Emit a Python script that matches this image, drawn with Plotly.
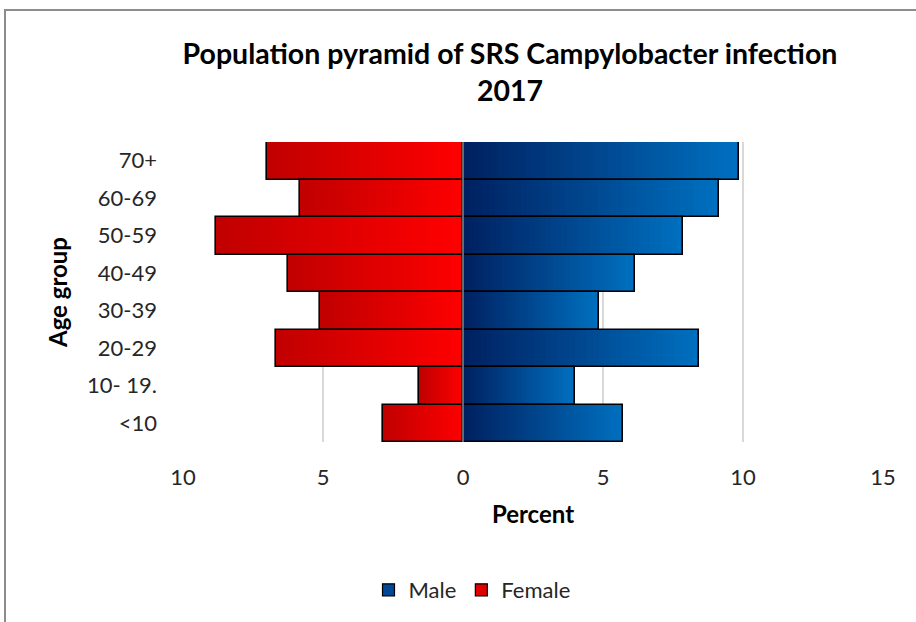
"""Population pyramid of SRS Campylobacter infection, 2017."""

import plotly.graph_objects as go

# bottom to top
age_groups = ["<10", "10- 19.", "20-29", "30-39", "40-49", "50-59", "60-69", "70+"]
male_pct = [5.71, 4.0, 8.42, 4.85, 6.14, 7.85, 9.13, 9.85]
female_pct = [2.85, 1.56, 6.69, 5.1, 6.26, 8.82, 5.82, 7.0]
x_tick_vals = [-10, -5, 0, 5, 10, 15]
x_tick_text = ["10", "5", "0", "5", "10", "15"]

FONT = "Lato, 'Open Sans', sans-serif"
COLOR_TEXT = "#000000"
COLOR_TICK = "#262626"
COLOR_GRID = "#D9D9D9"
COLOR_AXIS = "#868686"
STEPS = 40

# gradient ends: (near zero, far end)
MALE_NEAR, MALE_FAR = (0, 32, 96), (0, 112, 192)
FEMALE_NEAR, FEMALE_FAR = (255, 0, 0), (192, 0, 0)


def _mix(a, b, t):
    return "rgb({},{},{})".format(*[round(a[i] + (b[i] - a[i]) * t) for i in range(3)])


def _gradient_bars(fig, values, sign, near, far, name):
    # longest bar first (far colour), shorter ones painted on top -> gradient
    for k in range(STEPS, 0, -1):
        frac = k / STEPS
        fig.add_trace(
            go.Bar(
                y=age_groups,
                x=[sign * v * frac for v in values],
                orientation="h",
                name=name,
                showlegend=False,
                marker=dict(color=_mix(near, far, frac - 0.5 / STEPS), line=dict(width=0)),
                hoverinfo="skip",
            )
        )
    # outline
    fig.add_trace(
        go.Bar(
            y=age_groups,
            x=[sign * v for v in values],
            orientation="h",
            name=name,
            showlegend=False,
            marker=dict(color="rgba(0,0,0,0)", line=dict(width=1.6, color="black")),
            customdata=values,
            hovertemplate="%{y}: " + name + " %{customdata}%<extra></extra>",
        )
    )


fig = go.Figure()
_gradient_bars(fig, male_pct, 1, MALE_NEAR, MALE_FAR, "Male")
_gradient_bars(fig, female_pct, -1, FEMALE_NEAR, FEMALE_FAR, "Female")

# legend entries
for name, color in [("Male", "rgb(0,72,150)"), ("Female", "rgb(225,0,0)")]:
    fig.add_trace(
        go.Bar(
            y=[None],
            x=[None],
            orientation="h",
            name=name,
            marker=dict(color=color, line=dict(width=1.2, color="black")),
        )
    )

fig.add_shape(
    type="line", xref="x", yref="paper", x0=0, x1=0, y0=0, y1=1,
    line=dict(color=COLOR_AXIS, width=1.5), layer="above",
)
# outer chart border (partly clipped, as in the source image)
fig.add_shape(
    type="rect", xref="paper", yref="paper",
    x0=-0.2543, x1=1.08, y0=-0.7, y1=1.44,
    line=dict(color="#8C8C8C", width=2), fillcolor="rgba(0,0,0,0)", layer="below",
)

fig.update_layout(
    width=916,
    height=622,
    paper_bgcolor="white",
    plot_bgcolor="white",
    font=dict(family=FONT, color=COLOR_TEXT, size=22),
    barmode="overlay",
    bargap=0,
    margin=dict(l=183, r=33, t=142, b=180),
    title=dict(
        text="<b>Population pyramid of SRS Campylobacter infection<br>2017</b>",
        x=510 / 916,
        xanchor="center",
        y=1 - 64 / 622,
        yanchor="top",
        font=dict(size=28.5, color="black", family=FONT),
    ),
    showlegend=True,
    legend=dict(
        orientation="h",
        x=472 / 916,
        xanchor="center",
        xref="container",
        y=1 - 590 / 622,
        yanchor="middle",
        yref="container",
        font=dict(size=22, color=COLOR_TICK),
        traceorder="normal",
        itemwidth=30,
    ),
)
fig.update_xaxes(
    range=[-10, 15],
    tickvals=x_tick_vals,
    ticktext=x_tick_text,
    showgrid=True,
    gridcolor=COLOR_GRID,
    gridwidth=1.5,
    zeroline=False,
    showline=False,
    ticks="",
    ticklabelstandoff=20,
    tickfont=dict(size=22, color=COLOR_TICK),
    title=dict(text="<b>Percent</b>", font=dict(size=24, color="black"), standoff=17),
)
fig.update_yaxes(
    categoryorder="array",
    categoryarray=age_groups,
    showgrid=False,
    zeroline=False,
    showline=False,
    ticks="",
    ticklabelstandoff=25,
    tickfont=dict(size=22, color=COLOR_TICK),
    title=dict(text="<b>Age group</b>", font=dict(size=24, color="black"), standoff=12),
)

# page has a default body margin; drop it so the figure sits at the window origin
fig.write_html(
    "out.html",
    config={"displayModeBar": False},
    post_script="document.body.style.margin = '0';",
)
